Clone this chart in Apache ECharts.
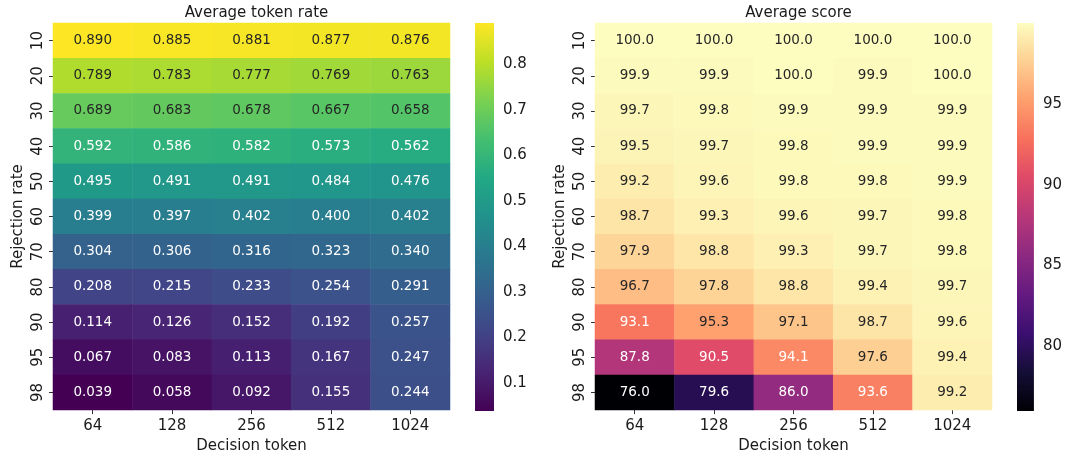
<!DOCTYPE html>
<html>
<head>
<meta charset="utf-8">
<title>Token rate and score heatmaps</title>
<script src="https://cdn.jsdelivr.net/npm/echarts@6/dist/echarts.min.js"></script>
<style>
  html, body { margin: 0; padding: 0; background: #fff; }
  #chart { width: 1065px; height: 459px; }
</style>
</head>
<body>
<div id="chart"></div>
<script>
// ---- data ----
const decisionTokens = ['64', '128', '256', '512', '1024'];
const rejectionRates = ['10', '20', '30', '40', '50', '60', '70', '80', '90', '95', '98'];

// Average token rate, one row per rejection rate
const tokenRate = [
  [0.890, 0.885, 0.881, 0.877, 0.876],
  [0.789, 0.783, 0.777, 0.769, 0.763],
  [0.689, 0.683, 0.678, 0.667, 0.658],
  [0.592, 0.586, 0.582, 0.573, 0.562],
  [0.495, 0.491, 0.491, 0.484, 0.476],
  [0.399, 0.397, 0.402, 0.400, 0.402],
  [0.304, 0.306, 0.316, 0.323, 0.340],
  [0.208, 0.215, 0.233, 0.254, 0.291],
  [0.114, 0.126, 0.152, 0.192, 0.257],
  [0.067, 0.083, 0.113, 0.167, 0.247],
  [0.039, 0.058, 0.092, 0.155, 0.244]
];

// Average score, one row per rejection rate
const avgScore = [
  [100.0, 100.0, 100.0, 100.0, 100.0],
  [99.9, 99.9, 100.0, 99.9, 100.0],
  [99.7, 99.8, 99.9, 99.9, 99.9],
  [99.5, 99.7, 99.8, 99.9, 99.9],
  [99.2, 99.6, 99.8, 99.8, 99.9],
  [98.7, 99.3, 99.6, 99.7, 99.8],
  [97.9, 98.8, 99.3, 99.7, 99.8],
  [96.7, 97.8, 98.8, 99.4, 99.7],
  [93.1, 95.3, 97.1, 98.7, 99.6],
  [87.8, 90.5, 94.1, 97.6, 99.4],
  [76.0, 79.6, 86.0, 93.6, 99.2]
];

const rateTicks = [0.1, 0.2, 0.3, 0.4, 0.5, 0.6, 0.7, 0.8];
const scoreTicks = [80, 85, 90, 95];

// ---- colour maps (evenly spaced stops) ----
const viridis = ['#440154', '#482475', '#414487', '#355f8d', '#2a788e', '#21918c',
                 '#22a884', '#44bf70', '#7ad151', '#bddf26', '#fde725'];
const magma = ['#000004', '#140e36', '#3b0f70', '#641a80', '#8c2981', '#b73779',
               '#de4968', '#f7705c', '#fe9f6d', '#fecf92', '#fcfdbf'];

const FONT = '"DejaVu Sans", sans-serif';
const TEXT = '#1a1a1a';

function hexToRgb(h) {
  const n = parseInt(h.slice(1), 16);
  return [(n >> 16) & 255, (n >> 8) & 255, n & 255].map(v => v / 255);
}
function sampleMap(stops, t) {
  t = Math.max(0, Math.min(1, t));
  const pos = t * (stops.length - 1);
  const i = Math.min(stops.length - 2, Math.floor(pos));
  const f = pos - i;
  const a = hexToRgb(stops[i]), b = hexToRgb(stops[i + 1]);
  return a.map((v, k) => v + (b[k] - v) * f);
}
function luminance(rgb) {
  const lin = rgb.map(c => c <= 0.03928 ? c / 12.92 : Math.pow((c + 0.055) / 1.055, 2.4));
  return 0.2126 * lin[0] + 0.7152 * lin[1] + 0.0722 * lin[2];
}

function buildCells(matrix, stops, vmin, vmax) {
  const cells = [];
  matrix.forEach((row, r) => {
    row.forEach((v, c) => {
      const lum = luminance(sampleMap(stops, (v - vmin) / (vmax - vmin)));
      cells.push({
        value: [c, r, v],
        label: { color: lum > 0.408 ? '#262626' : '#ffffff' }
      });
    });
  });
  return cells;
}

const flat = m => m.reduce((a, r) => a.concat(r), []);
const rateMin = Math.min(...flat(tokenRate)), rateMax = Math.max(...flat(tokenRate));
const scoreMin = Math.min(...flat(avgScore)), scoreMax = Math.max(...flat(avgScore));

// ---- layout ----
const G_TOP = 23, G_H = 388, G_W = 397;
const LEFT_X = 53, RIGHT_X = 595;
const CB_W = 19, LEFT_CB_X = 475, RIGHT_CB_X = 1017;

function heatXAxis(gridIndex) {
  return {
    type: 'category', gridIndex, data: decisionTokens, position: 'bottom',
    name: 'Decision token', nameLocation: 'middle', nameGap: 27,
    nameTextStyle: { fontFamily: FONT, fontSize: 15, color: TEXT },
    axisLine: { show: false },
    axisTick: { show: true, alignWithLabel: true, length: 4, lineStyle: { color: '#333' } },
    axisLabel: { fontFamily: FONT, fontSize: 15, color: TEXT, margin: 9 },
    splitLine: { show: false }
  };
}
function heatYAxis(gridIndex) {
  return {
    type: 'category', gridIndex, data: rejectionRates, inverse: true,
    name: 'Rejection rate', nameLocation: 'middle', nameGap: 27,
    nameTextStyle: { fontFamily: FONT, fontSize: 15, color: TEXT },
    axisLine: { show: false },
    axisTick: { show: true, alignWithLabel: true, length: 4, lineStyle: { color: '#333' } },
    axisLabel: { fontFamily: FONT, fontSize: 15, color: TEXT, rotate: 90, margin: 7 },
    splitLine: { show: false }
  };
}
function barXAxis(gridIndex) {
  return { type: 'value', gridIndex, min: 0, max: 1, show: false };
}
function barYAxis(gridIndex, vmin, vmax, ticks, fmt) {
  return {
    type: 'value', gridIndex, min: vmin, max: vmax, position: 'right',
    axisLine: { show: false },
    splitLine: { show: false },
    axisTick: { show: true, length: 4, customValues: ticks, lineStyle: { color: '#333' } },
    axisLabel: { fontFamily: FONT, fontSize: 15, color: TEXT, margin: 9,
                 customValues: ticks, formatter: fmt }
  };
}
function colorbarSeries(idx, stops, vmin, vmax) {
  return {
    type: 'custom', xAxisIndex: idx, yAxisIndex: idx, silent: true,
    data: [[0, vmin, 1, vmax]],
    renderItem: function (params, api) {
      const p0 = api.coord([api.value(0), api.value(3)]);
      const p1 = api.coord([api.value(2), api.value(1)]);
      const gStops = stops.map((c, i) => ({ offset: 1 - i / (stops.length - 1), color: c })).reverse();
      return {
        type: 'rect',
        shape: { x: p0[0], y: p0[1], width: p1[0] - p0[0], height: p1[1] - p0[1] },
        style: { fill: new echarts.graphic.LinearGradient(0, 0, 0, 1, gStops) }
      };
    }
  };
}
function heatSeries(idx, cells, fmtDigits) {
  return {
    type: 'heatmap', xAxisIndex: idx, yAxisIndex: idx, data: cells,
    itemStyle: { borderWidth: 0 },
    label: {
      show: true, fontFamily: FONT, fontSize: 13.5,
      formatter: p => p.value[2].toFixed(fmtDigits)
    },
    emphasis: { disabled: true }
  };
}

const chart = echarts.init(document.getElementById('chart'), null, { renderer: 'canvas' });
chart.setOption({
  backgroundColor: '#ffffff',
  animation: false,
  title: [
    { text: 'Average token rate', left: LEFT_X + G_W / 2, top: 1, textAlign: 'center',
      textStyle: { fontFamily: FONT, fontSize: 15, fontWeight: 'normal', color: TEXT } },
    { text: 'Average score', left: RIGHT_X + G_W / 2, top: 1, textAlign: 'center',
      textStyle: { fontFamily: FONT, fontSize: 15, fontWeight: 'normal', color: TEXT } }
  ],
  grid: [
    { left: LEFT_X, top: G_TOP, width: G_W, height: G_H },
    { left: RIGHT_X, top: G_TOP, width: G_W, height: G_H },
    { left: LEFT_CB_X, top: G_TOP, width: CB_W, height: G_H },
    { left: RIGHT_CB_X, top: G_TOP, width: CB_W, height: G_H }
  ],
  xAxis: [heatXAxis(0), heatXAxis(1), barXAxis(2), barXAxis(3)],
  yAxis: [
    heatYAxis(0), heatYAxis(1),
    barYAxis(2, rateMin, rateMax, rateTicks, v => v.toFixed(1)),
    barYAxis(3, scoreMin, scoreMax, scoreTicks, v => String(Math.round(v)))
  ],
  visualMap: [
    { type: 'continuous', show: false, seriesIndex: 0, dimension: 2,
      min: rateMin, max: rateMax, inRange: { color: viridis } },
    { type: 'continuous', show: false, seriesIndex: 1, dimension: 2,
      min: scoreMin, max: scoreMax, inRange: { color: magma } }
  ],
  series: [
    heatSeries(0, buildCells(tokenRate, viridis, rateMin, rateMax), 3),
    heatSeries(1, buildCells(avgScore, magma, scoreMin, scoreMax), 1),
    colorbarSeries(2, viridis, rateMin, rateMax),
    colorbarSeries(3, magma, scoreMin, scoreMax)
  ]
});
</script>
</body>
</html>
